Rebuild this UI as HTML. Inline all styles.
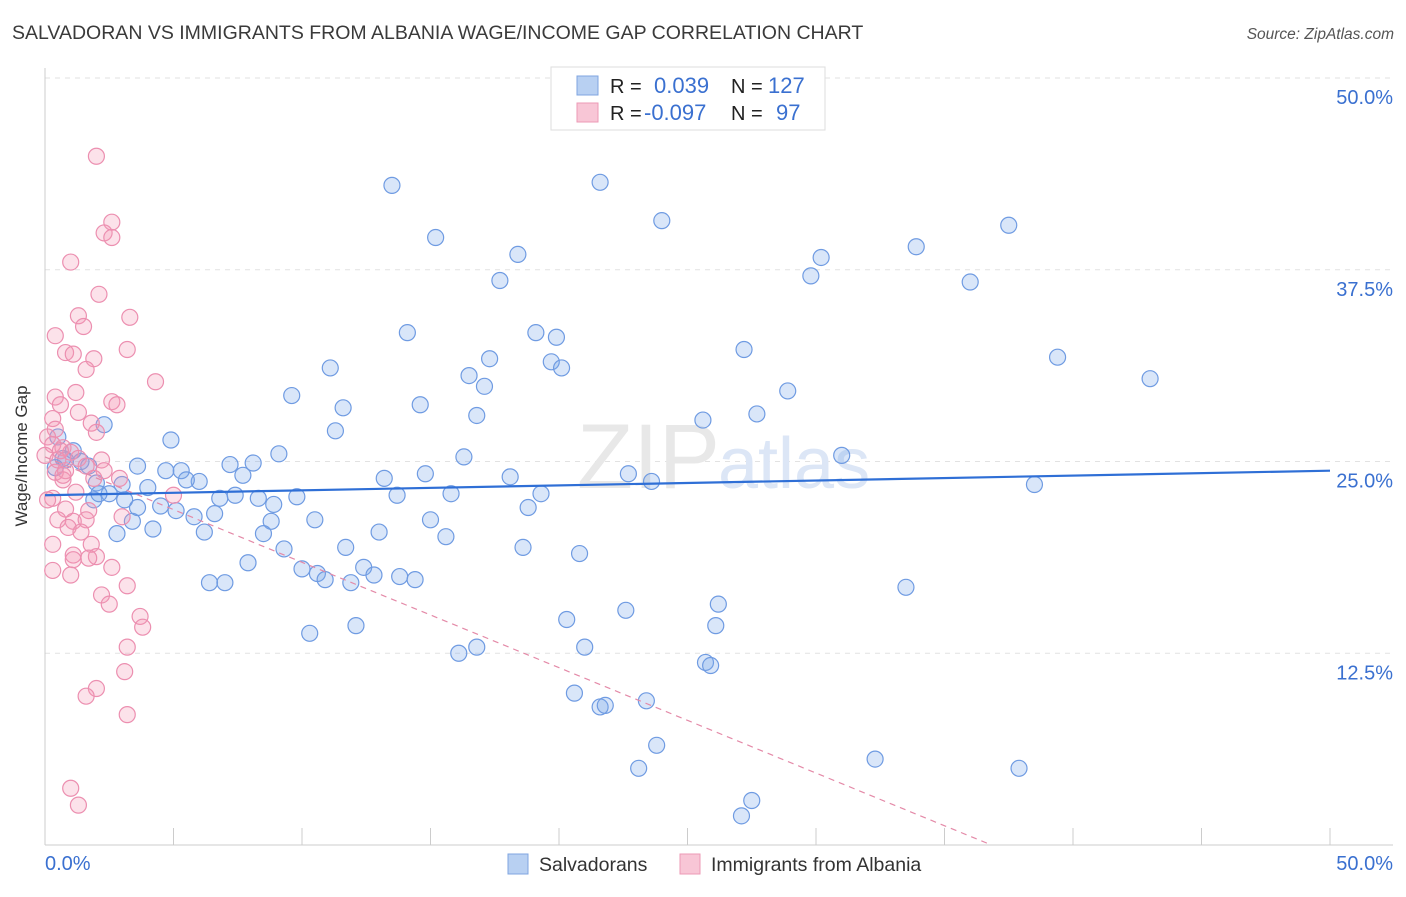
<!DOCTYPE html>
<html><head><meta charset="utf-8"><style>
body{margin:0;background:#fff;font-family:"Liberation Sans",sans-serif;}
svg text{font-family:"Liberation Sans",sans-serif;}
</style></head><body>
<svg id="chart" width="1406" height="892" xmlns="http://www.w3.org/2000/svg">
<text x="12" y="39" font-size="19.5" fill="#3a3a3a">SALVADORAN VS IMMIGRANTS FROM ALBANIA WAGE/INCOME GAP CORRELATION CHART</text>
<text x="1394" y="39" font-size="15.5" fill="#555" text-anchor="end" font-style="italic">Source: ZipAtlas.com</text>
<g id="grid"></g>
<text x="720" y="488" font-size="92" fill="#e8e8e8" text-anchor="end" font-family="Liberation Serif">ZIP</text>
<text x="718" y="488" font-size="72" fill="#dce6f6">atlas</text>
<g id="axes"></g>
<g id="pts"></g>
<g id="lines"></g>
<text x="27" y="456" font-size="17" fill="#333" text-anchor="middle" transform="rotate(-90 27 456)">Wage/Income Gap</text>
<text x="45" y="870" font-size="20" fill="#3a70d0">0.0%</text>
<text x="1393" y="870" font-size="20" fill="#3a70d0" text-anchor="end">50.0%</text>
<g>
<rect x="551" y="67" width="274" height="63" fill="#fff" stroke="#ddd"/>
<rect x="577" y="76" width="21" height="19" fill="#b8d0f2" stroke="#7fa5e0"/>
<rect x="577" y="103" width="21" height="19" fill="#f8c6d6" stroke="#ec9ab6"/>
<text x="610" y="93" font-size="20" fill="#222">R = </text><text x="654" y="93" font-size="22" fill="#3a70d0">0.039</text>
<text x="731" y="93" font-size="20" fill="#222">N = </text><text x="768" y="93" font-size="22" fill="#3a70d0">127</text>
<text x="610" y="120" font-size="20" fill="#222">R = </text><text x="644" y="120" font-size="22" fill="#3a70d0">-0.097</text>
<text x="731" y="120" font-size="20" fill="#222">N = </text><text x="776" y="120" font-size="22" fill="#3a70d0">97</text>
</g>
<rect x="508" y="854" width="20" height="20" fill="#b8d0f2" stroke="#7fa5e0"/>
<text x="539" y="871" font-size="19.5" fill="#333">Salvadorans</text>
<rect x="680" y="854" width="20" height="20" fill="#f8c6d6" stroke="#ec9ab6"/>
<text x="711" y="871" font-size="19.5" fill="#333">Immigrants from Albania</text>
</svg>
<script>
const blueX=[13.5,21.6,24.0,37.5,15.2,18.4,33.9,30.2,17.7,29.8,36.0,14.1,19.1,19.9,27.2,17.3,19.7,20.1,39.4,11.1,16.5,17.1,43.0,9.6,28.9,11.6,14.6,16.8,25.6,27.7,11.3,2.3,4.9,9.1,16.3,31.0,3.6,4.7,5.3,7.2,8.1,7.7,6.0,5.5,13.2,14.8,18.1,22.7,23.6,38.5,1.1,0.7,1.4,1.7,2.0,2.5,4.0,1.9,3.1,4.5,5.1,5.8,6.6,7.4,6.8,8.3,8.9,9.8,13.7,15.8,19.3,18.8,8.8,10.5,15.0,13.0,15.6,2.8,3.4,4.2,6.2,8.5,9.3,11.7,18.6,20.8,7.9,10.0,10.6,10.9,12.4,12.8,11.9,13.8,14.4,6.4,7.0,33.5,22.6,26.2,20.3,12.1,10.3,26.1,16.8,16.1,21.0,25.7,25.9,20.6,23.4,21.6,21.8,23.8,23.1,32.3,37.9,27.5,27.1,0.5,0.4,0.8,3.0,2.1,3.6];
const blueY=[43.0,43.2,40.7,40.4,39.6,38.5,39.0,38.3,36.8,37.1,36.7,33.4,33.4,33.1,32.3,31.7,31.5,31.1,31.8,31.1,30.6,29.9,30.4,29.3,29.6,28.5,28.7,28.0,27.7,28.1,27.0,27.4,26.4,25.5,25.3,25.4,24.7,24.4,24.4,24.8,24.9,24.1,23.7,23.8,23.9,24.2,24.0,24.2,23.7,23.5,25.7,25.2,25.0,24.7,23.6,22.9,23.3,22.5,22.5,22.1,21.8,21.4,21.6,22.8,22.6,22.6,22.2,22.7,22.8,22.9,22.9,22.0,21.1,21.2,21.2,20.4,20.1,20.3,21.1,20.6,20.4,20.3,19.3,19.4,19.4,19.0,18.4,18.0,17.7,17.3,18.1,17.6,17.1,17.5,17.3,17.1,17.1,16.8,15.3,15.7,14.7,14.3,13.8,14.3,12.9,12.5,12.9,11.9,11.7,9.9,9.4,9.0,9.1,6.5,5.0,5.6,5.0,2.9,1.9,26.6,24.6,25.1,23.5,22.9,22.0];
const pinkX=[2.0,2.6,2.3,2.6,1.0,2.1,3.3,1.3,1.5,0.4,0.8,1.1,3.2,1.9,1.6,4.3,1.2,0.4,0.6,2.6,2.8,1.3,0.3,1.8,0.4,2.0,0.1,0.3,0.7,1.0,1.3,2.2,1.6,0.0,0.4,0.7,2.3,1.9,2.9,1.2,5.0,0.3,0.8,1.7,1.1,1.6,0.5,3.0,0.9,1.4,1.8,0.3,1.1,2.0,1.1,1.7,0.3,2.6,1.0,3.2,2.2,2.5,3.7,3.8,3.2,3.1,2.0,1.6,3.2,1.0,1.3,0.5,0.8,0.6,0.1,0.7];
const pinkY=[44.9,40.6,39.9,39.6,38.0,35.9,34.4,34.5,33.8,33.2,32.1,32.0,32.3,31.7,31.0,30.2,29.5,29.2,28.7,28.9,28.7,28.2,27.8,27.5,27.1,26.9,26.6,26.1,25.9,25.6,25.2,25.1,24.7,25.4,24.3,23.8,24.4,23.9,23.9,23.0,22.8,22.6,21.9,21.8,21.1,21.2,21.2,21.4,20.7,20.4,19.6,19.6,18.9,18.8,18.6,18.7,17.9,18.1,17.6,16.9,16.3,15.7,14.9,14.2,12.9,11.3,10.2,9.7,8.5,3.7,2.6,25.1,24.4,25.7,22.5,24.1];
const blueTrend=[22.8,24.4];   // y% at x=0 and x=50
const pinkTrend=[25.3,-0.687]; // intercept, slope
const yTicks=[50,37.5,25,12.5];
const yTickLabels=["50.0%","37.5%","25.0%","12.5%"];
const NS="http://www.w3.org/2000/svg";
const X=v=>45+v*25.7, Y=v=>845-v*15.34;
function mk(t,a,p){const e=document.createElementNS(NS,t);for(const k in a)e.setAttribute(k,a[k]);p.appendChild(e);return e;}
const grid=document.getElementById('grid'),axes=document.getElementById('axes'),pts=document.getElementById('pts'),lines=document.getElementById('lines');
yTicks.forEach((t,i)=>{
  const l=mk('line',{x1:45,x2:1393,y1:Y(t),y2:Y(t),stroke:'#e2e2e2','stroke-dasharray':'5,5'},grid);
  
  
  const tx=mk('text',{x:1393,y:Y(t)+26,'font-size':20,fill:'#3a70d0','text-anchor':'end'},axes);
  tx.textContent=yTickLabels[i];
  
  
});
mk('line',{x1:45,x2:45,y1:68,y2:845,stroke:'#ccc'},axes);
mk('line',{x1:45,x2:1393,y1:845,y2:845,stroke:'#ccc'},axes);
for(let i=0;i<=10;i++){const t=mk('line',{x1:X(i*5),x2:X(i*5),y1:828,y2:845,stroke:'#ccc'},axes);
  
  }
blueX.forEach((x,i)=>{const c=mk('circle',{cx:X(x),cy:Y(blueY[i]),r:8,fill:'rgba(120,165,235,0.28)',stroke:'#6f9be2','stroke-width':1.2},pts);
  
  });
pinkX.forEach((x,i)=>{const c=mk('circle',{cx:X(x),cy:Y(pinkY[i]),r:8,fill:'rgba(245,150,180,0.28)',stroke:'#ec8fb0','stroke-width':1.2},pts);
  
  });
const bl=mk('line',{x1:X(0),y1:Y(blueTrend[0]),x2:X(50),y2:Y(blueTrend[1]),stroke:'#2f6fd6','stroke-width':2.2},lines);


const xe=-pinkTrend[0]/pinkTrend[1];
const pl=mk('line',{x1:X(0),y1:Y(pinkTrend[0]),x2:X(xe),y2:Y(0),stroke:'#e48aa8','stroke-width':1.2,'stroke-dasharray':'6,5'},lines);


</script>
</body></html>
